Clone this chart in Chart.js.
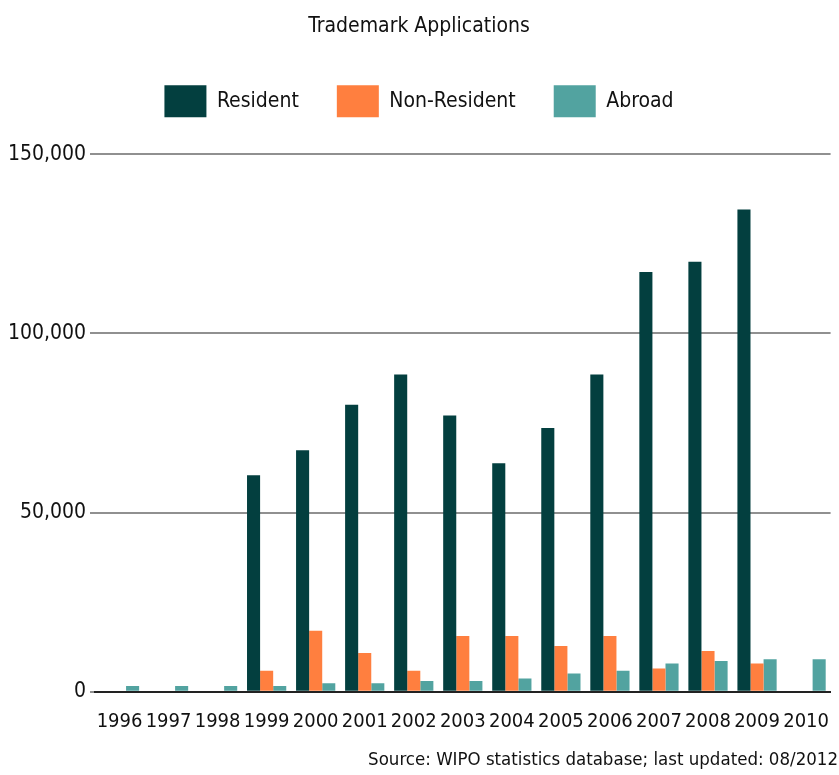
<!DOCTYPE html>
<html>
<head>
<meta charset="utf-8">
<script src="https://cdn.jsdelivr.net/npm/chart.js@4/dist/chart.umd.min.js"></script>
<style>
html,body{margin:0;padding:0;background:#fff;}
#wrap{width:839px;height:775px;position:relative;}
</style>
</head>
<body>
<div id="wrap"><canvas id="c" width="839" height="775"></canvas></div>
<script>
const years = ['1996','1997','1998','1999','2000','2001','2002','2003','2004','2005','2006','2007','2008','2009','2010'];
const resident = [null, null, null, 60400, 67400, 80100, 88500, 77100, 63800, 73600, 88500, 117100, 120000, 134600, null];
const nonResident = [null, null, null, 5900, 17000, 10800, 5900, 15600, 15600, 12800, 15600, 6500, 11400, 7900, null];
const abroad = [1600, 1600, 1600, 1600, 2400, 2400, 3000, 3000, 3700, 5100, 5900, 7900, 8600, 9100, 9100];
const yTicks = [0, 50000, 100000, 150000];

const FONT = "'DejaVu Sans Condensed', 'DejaVu Sans', sans-serif";
Chart.defaults.font.family = FONT;
Chart.defaults.color = '#111';

const legendSpacer = {
  id: 'legendSpacer',
  beforeLayout(chart) {
    const lg = chart.legend;
    if (lg && !lg._patched) {
      const f = lg.fit;
      lg.fit = function () { f.call(this); this.height += 27; };
      lg._patched = true;
    }
  }
};

new Chart(document.getElementById('c'), {
  type: 'bar',
  data: {
    labels: years,
    datasets: [
      {label: 'Resident', data: resident, backgroundColor: '#033f3f'},
      {label: 'Non-Resident', data: nonResident, backgroundColor: '#ff7f3f'},
      {label: 'Abroad', data: abroad, backgroundColor: '#52a3a0'}
    ]
  },
  plugins: [legendSpacer],
  options: {
    responsive: false,
    animation: false,
    layout: {padding: {left: 0, right: 1, top: 0, bottom: 4}},
    datasets: {bar: {barPercentage: 1.0, categoryPercentage: 0.8}},
    plugins: {
      title: {display: true, text: 'Trademark Applications', font: {size: 21, weight: 'normal'}, color: '#111', padding: {top: 14, bottom: 8}},
      legend: {
        position: 'top',
        labels: {boxWidth: 42, boxHeight: 32, padding: 38, font: {size: 21}, color: '#111'}
      },
      subtitle: {display: true, position: 'bottom', align: 'end', text: 'Source: WIPO statistics database; last updated: 08/2012', font: {size: 18.5, weight: 'normal'}, color: '#111', padding: {top: 5, bottom: 0}},
      tooltip: {enabled: false}
    },
    scales: {
      x: {
        grid: {display: false},
        border: {display: true, color: '#222', width: 2},
        ticks: {font: {size: 20}, color: '#111', maxRotation: 0, autoSkip: false, padding: 10}
      },
      y: {
        min: 0, max: 150000,
        afterBuildTicks: (s) => { s.ticks = yTicks.map(v => ({value: v})); },
        afterFit: (s) => { s.width = 95; },
        grid: {color: '#909090', lineWidth: 2, tickLength: 5, drawTicks: true},
        border: {display: false},
        ticks: {font: {size: 21}, color: '#111', padding: 4, callback: (v) => v.toLocaleString('en-US')}
      }
    }
  }
});
</script>
</body>
</html>
